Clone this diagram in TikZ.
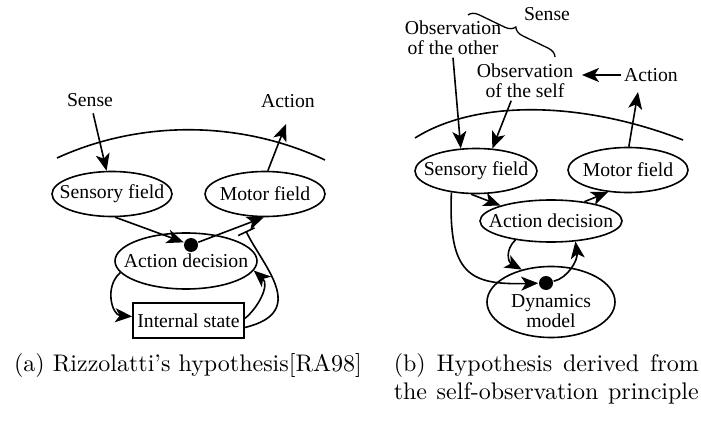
\documentclass[tikz,border=0pt]{standalone}
\usepackage{fontspec}
\newfontfamily\labelfont{Liberation Serif}
\newfontfamily\capfont{lmroman10-regular}[Extension=.otf,Ligatures=TeX]
\usetikzlibrary{arrows.meta,shapes.geometric,decorations.pathreplacing,calc}

\begin{document}
\begin{tikzpicture}[x=1pt,y=-1pt,line width=1.6pt,
  lbl/.style={font=\labelfont\fontsize{19.7}{20}\selectfont, inner sep=2pt, align=center},
  field/.style={ellipse, draw, inner sep=0pt},
  arr/.style={-{Stealth[length=17pt,width=14pt,inset=4.5pt]}},
  inhib/.style={-{Bar[width=18pt]}},
  dot/.style={circle, fill, inner sep=0pt, minimum size=14pt},
  captext/.style={font=\capfont\fontsize{24}{28}\selectfont, inner sep=0pt, anchor=base}
]
\useasboundingbox (0,0) rectangle (701,422);

% ---------------- (a) ----------------
\draw (57,158) .. controls (140,120) and (240,120) .. (325,160);

\node[lbl] (senseA) at (90,100) {Sense};
\node[lbl] (actionA) at (288,101) {Action};
\coordinate (actTipA) at (286,124);

\node[field, minimum width=120pt, minimum height=45pt,
      label={[lbl]center:Sensory field}] (sfA) at (112,194) {};
\node[field, minimum width=120pt, minimum height=45pt,
      label={[lbl]center:Motor field}] (mfA) at (265,194) {};
\node[field, minimum width=142pt, minimum height=56pt,
      label={[lbl]center:Action decision}] (adA) at (186,261) {};
\node[draw, lbl, inner sep=0pt, minimum width=111pt, minimum height=35pt] (isA) at (188.5,320.5) {Internal state};
\node[dot] (dotA) at (191,245) {};
\coordinate (inhA) at (246,231);

\draw[arr, shorten <=4pt] (senseA) -- (sfA);
\draw[arr] (mfA.83) -- (actTipA);
\draw[arr] (sfA.-82) -- (dotA);
\draw[arr] (dotA) -- (mfA.-93);
\draw[arr] (adA.190) .. controls (104,287) and (112,315) .. ([yshift=4pt]isA.west);
\draw[arr] ([yshift=2pt]isA.east) .. controls (258,308) and (270,285) .. (adA.-8);
\draw[inhib] ([yshift=-7pt]isA.east) .. controls (310,312) and (262,265) .. (inhA);

% ---------------- (b) ----------------
\draw (415,138) .. controls (475,100) and (580,100) .. (683,140);

\node[lbl] (senseB) at (547,14) {Sense};
\coordinate (brS) at (468,15);
\coordinate (brE) at (555,57);
\draw[line width=1.3pt, decorate, decoration={brace, amplitude=10pt}] (brS) -- (brE);

\node[lbl] (obsOther) at (453,38) {Observation\\of the other};
\node[lbl] (obsSelf) at (525,81) {Observation\\of the self};
\node[lbl] (actionB) at (651,75) {Action};
\coordinate (actTipB) at (638,92);

\node[field, minimum width=122pt, minimum height=45pt,
      label={[lbl]center:Sensory field}] (sfB) at (476,171) {};
\node[field, minimum width=120pt, minimum height=45pt,
      label={[lbl]center:Motor field}] (mfB) at (628,170) {};
\node[field, minimum width=142pt, minimum height=42pt,
      label={[lbl]center:Action decision}] (adB) at (551,221) {};
\node[field, minimum width=128pt, minimum height=71pt,
      label={[lbl, yshift=-9pt]center:Dynamics\\model}] (dmB) at (551,302) {};
\node[dot] (dotB) at (546,283) {};

\draw[arr, shorten >=6pt] (actionB.west) -- (actionB.west -| obsSelf.east);
\draw[arr] (obsOther.south) -- (sfB.124);
\draw[arr] (obsSelf.-125) -- (sfB.54);
\draw[arr] (mfB.88) -- (actTipB);
\draw[arr] (sfB.-102) -- (adB.163);
\draw[arr] (adB.30) -- (mfB.-132);
\draw[arr] (sfB.-139) .. controls (448,275) and (470,285) .. (dotB);
\draw[arr] (adB.-152) .. controls (505,250) and (508,262) .. (dmB.132);
\draw[arr] (dotB) .. controls (568,278) and (578,260) .. (adB.-40);

% ---------------- captions ----------------
\node[captext] (capA) at (188,371) {(a) Rizzolatti's hypothesis[RA98]};
\node[captext, anchor=base west] (capB1) at (393,371) {\makebox[305pt][s]{(b) Hypothesis derived from}};
\node[captext, anchor=base west] (capB2) at (393,399) {\makebox[305pt][s]{the self-observation principle}};
\end{tikzpicture}
\end{document}
